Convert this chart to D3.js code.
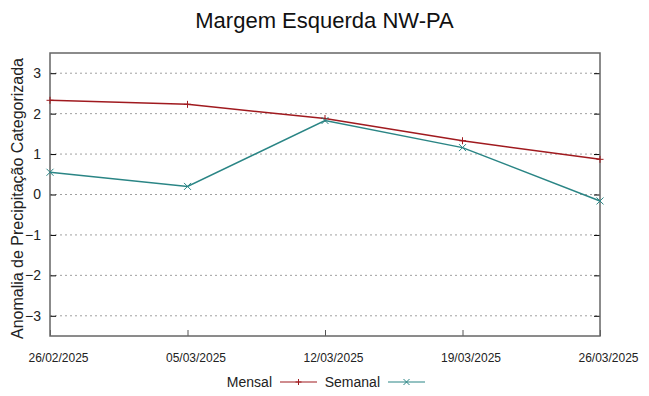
<!DOCTYPE html>
<html lang="pt">
<head>
<meta charset="UTF-8">
<title>Margem Esquerda NW-PA</title>
<script src="https://d3js.org/d3.v7.min.js"></script>
<style>
    body { margin: 0; background: #fff; }
    svg { font-family: 'Liberation Sans', Arial, sans-serif; }
    .grid line { stroke: #a0a0a0; stroke-width: 1; stroke-dasharray: 2,3; }
</style>
</head>
<body>
<div id="chart"></div>
<script>
const datas = ['26/02/2025', '05/03/2025', '12/03/2025', '19/03/2025', '26/03/2025'];
const mensal = [2.33, 2.23, 1.88, 1.33, 0.87];
const semanal = [0.55, 0.20, 1.83, 1.16, -0.16];
const yTicks = [-3, -2, -1, 0, 1, 2, 3];

const W = 649, H = 396;
const margin = { top: 53, right: 49, bottom: 60, left: 50 };
const width = W - margin.left - margin.right;
const height = H - margin.top - margin.bottom;

const parse = d3.timeParse('%d/%m/%Y');
const dates = datas.map(parse);

const x = d3.scaleTime()
    .domain(d3.extent(dates))
    .range([0, width]);

const y = d3.scaleLinear()
    .domain([-3.5, 3.5])
    .range([height, 0]);

const svg = d3.select('#chart').append('svg')
    .attr('width', W)
    .attr('height', H);

svg.append('text')
    .attr('x', W / 2)
    .attr('y', 28)
    .attr('text-anchor', 'middle')
    .style('font-size', '22px')
    .attr('fill', '#111')
    .text('Margem Esquerda NW-PA');

svg.append('text')
    .attr('transform', 'translate(23,' + (margin.top + height / 2 + 4) + ') rotate(-90)')
    .attr('text-anchor', 'middle')
    .style('font-size', '16px')
    .attr('fill', '#222')
    .text('Anomalia de Precipitação Categorizada');

const g = svg.append('g')
    .attr('transform', 'translate(' + margin.left + ',' + margin.top + ')');

// grid
g.append('g').attr('class', 'grid')
    .selectAll('line')
    .data(yTicks)
    .enter().append('line')
    .attr('x1', 0).attr('x2', width)
    .attr('y1', d => y(d)).attr('y2', d => y(d));

// y axes (left labels, ticks inward on both sides)
const yAxisL = g.append('g')
    .call(d3.axisLeft(y).tickValues(yTicks).tickSize(-6).tickPadding(9).tickFormat(d3.format('d')));
yAxisL.select('.domain').remove();
yAxisL.selectAll('.tick line').attr('stroke', '#000');
yAxisL.selectAll('.tick text').style('font-size', '14px').attr('fill', '#222');

const yAxisR = g.append('g')
    .attr('transform', 'translate(' + width + ',0)')
    .call(d3.axisRight(y).tickValues(yTicks).tickSize(-6).tickFormat(''));
yAxisR.select('.domain').remove();
yAxisR.selectAll('.tick line').attr('stroke', '#000');

// x axis
const xAxis = g.append('g')
    .attr('transform', 'translate(0,' + height + ')')
    .call(d3.axisBottom(x).tickValues(dates).tickSize(-6).tickPadding(17)
        .tickFormat(d3.timeFormat('%d/%m/%Y')));
xAxis.select('.domain').remove();
xAxis.selectAll('.tick line').attr('stroke', '#555');
xAxis.selectAll('.tick text').attr('dx', 8).style('font-size', '12px').attr('fill', '#222');

// border
g.append('rect')
    .attr('width', width).attr('height', height)
    .attr('fill', 'none')
    .attr('stroke', '#666')
    .attr('stroke-width', 1.5);

const series = [
    { name: 'Mensal', values: mensal, color: '#a01a1f', marker: 'plus' },
    { name: 'Semanal', values: semanal, color: '#2a8585', marker: 'cross' }
];

const line = d3.line()
    .x((d, i) => x(dates[i]))
    .y(d => y(d));

function marker(sel, type, color, s) {
    if (type === 'plus') {
        sel.append('path').attr('d', 'M' + (-s) + ',0H' + s + 'M0,' + (-s) + 'V' + s);
    } else {
        sel.append('path').attr('d', 'M' + (-s) + ',' + (-s) + 'L' + s + ',' + s + 'M' + (-s) + ',' + s + 'L' + s + ',' + (-s));
    }
    sel.selectAll('path').attr('stroke', color).attr('stroke-width', 1).attr('fill', 'none');
}

series.forEach(function(s) {
    g.append('path')
        .datum(s.values)
        .attr('fill', 'none')
        .attr('stroke', s.color)
        .attr('stroke-width', 1.5)
        .attr('d', line);
    g.selectAll('.m-' + s.name)
        .data(s.values)
        .enter().append('g')
        .attr('transform', (d, i) => 'translate(' + x(dates[i]) + ',' + y(d) + ')')
        .each(function() { marker(d3.select(this), s.marker, s.color, 3.5); });
});

// legend
const legend = svg.append('g').attr('transform', 'translate(0,387)');
const legendItems = [
    { text: 'Mensal', tx: 272, lx: 280, color: series[0].color, marker: 'plus' },
    { text: 'Semanal', tx: 380, lx: 388, color: series[1].color, marker: 'cross' }
];
legendItems.forEach(function(it) {
    legend.append('text')
        .attr('x', it.tx).attr('y', 0)
        .attr('text-anchor', 'end')
        .style('font-size', '14px')
        .attr('fill', '#222')
        .text(it.text);
    legend.append('line')
        .attr('x1', it.lx).attr('x2', it.lx + 37)
        .attr('y1', -5).attr('y2', -5)
        .attr('stroke', it.color).attr('stroke-width', 1.2);
    const m = legend.append('g').attr('transform', 'translate(' + (it.lx + 18.5) + ',-5)');
    marker(m, it.marker, it.color, 3);
});
</script>
</body>
</html>
